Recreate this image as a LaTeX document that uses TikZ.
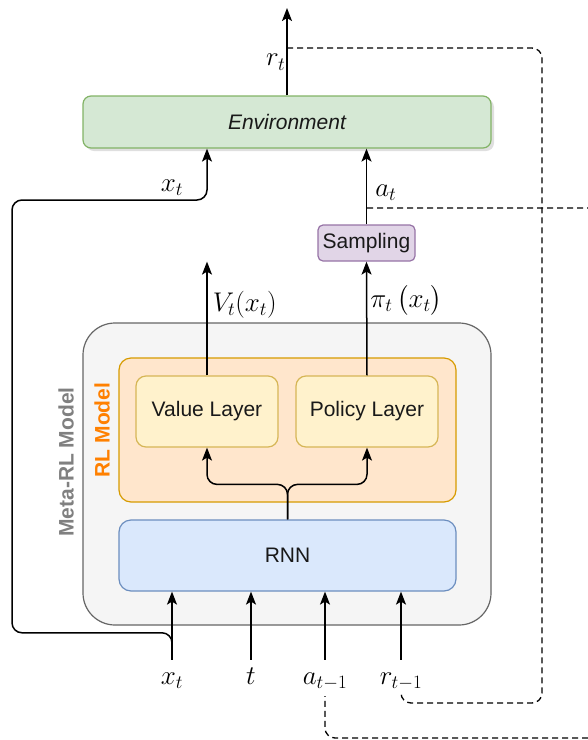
\RequirePackage{fix-cm}
\documentclass[tikz,border=0pt]{standalone}
\usepackage{amsmath}
\usepackage{fontspec}
\setmainfont{Liberation Sans}
\usetikzlibrary{arrows.meta,shadows}

\definecolor{envf}{HTML}{D5E8D4}
\definecolor{envd}{HTML}{82B366}
\definecolor{sampf}{HTML}{E1D5E7}
\definecolor{sampd}{HTML}{9673A6}
\definecolor{metaf}{HTML}{F5F5F5}
\definecolor{metad}{HTML}{666666}
\definecolor{rlf}{HTML}{FFE6CC}
\definecolor{rld}{HTML}{D79B00}
\definecolor{layf}{HTML}{FFF2CC}
\definecolor{layd}{HTML}{D6B656}
\definecolor{rnnf}{HTML}{DAE8FC}
\definecolor{rnnd}{HTML}{6C8EBF}
\definecolor{metatxt}{HTML}{808080}
\definecolor{rltxt}{HTML}{FF8000}

\begin{document}
\begin{tikzpicture}[
  x=1pt, y=-1pt,
  box/.style={draw, rounded corners=8pt, line width=1.2pt, inner sep=0pt, text=black!90, font=\fontsize{21}{25}\selectfont},
  arw/.style={-{Stealth[length=13pt,width=10pt,inset=3pt]}, line width=1.5pt},
  fb/.style={dash pattern=on 6pt off 4pt, line width=1.3pt, rounded corners=10pt},
  lbl/.style={font=\fontsize{27}{32}\selectfont, anchor=base, inner xsep=0pt, inner ysep=9pt, text height=15pt, text depth=6pt},
  tlbl/.style={font=\fontsize{27}{32}\selectfont, inner sep=4pt},
  side/.style={rotate=90, font=\fontsize{21}{25}\selectfont\bfseries}
  ]

\useasboundingbox (0,0) rectangle (588,740);
\clip (0,0) rectangle (588,740);

% boxes
\node [box, draw=envd, fill=envf, minimum width=408pt, minimum height=52pt,
  drop shadow={shadow xshift=3pt, shadow yshift=-3pt, opacity=0.25},
  font=\fontsize{21}{25}\selectfont\itshape] (env) at (287,122) {Environment};
\node [box, draw=sampd, fill=sampf, rounded corners=5pt, minimum width=97pt, minimum height=36pt] (samp) at (366.5,243) {Sampling};
\node [box, draw=metad, fill=metaf, rounded corners=32pt, minimum width=408pt, minimum height=302pt] (meta) at (287,474) {};
\node [box, draw=rld, fill=rlf, rounded corners=12pt, minimum width=337pt, minimum height=144pt] (rl) at (287.5,430) {};
\node [box, draw=layd, fill=layf, rounded corners=10pt, minimum width=142pt, minimum height=71pt] (value) at (207,411.5) {Value Layer};
\node [box, draw=layd, fill=layf, rounded corners=10pt, minimum width=142pt, minimum height=71pt] (policy) at (367,411.5) {Policy Layer};
\node [box, draw=rnnd, fill=rnnf, rounded corners=12pt, minimum width=337pt, minimum height=71pt] (rnn) at (287.5,555.5) {RNN};

\node [side, text=metatxt] (metalab) at (66,462) {Meta-RL Model};
\node [side, text=rltxt] (rllab) at (102,430) {RL Model};

% inputs
\node [lbl] (xin) at (172,684) {$x_t$};
\node [lbl] (tin) at (251,684) {$t$};
\node [lbl] (ain) at (325,684) {$a_{t-1}$};
\node [lbl] (rin) at (401,684) {$r_{t-1}$};

\foreach \n in {xin,tin,ain,rin}
  \draw [arw] (\n.north) -- (\n.north |- rnn.south);

% outputs
\coordinate (rout) at (287,8);
\draw [arw] (env.north) -- node [pos=0.38, left, tlbl, inner sep=1pt] (rlab) {$r_t$} (rout);
\draw [arw] (samp.north) -- node [pos=0.42, right, tlbl, inner sep=8pt] (alab) {$a_t$} (samp.north |- env.south);
\draw [arw] (value.north) -- node [pos=0.62, right, tlbl, inner sep=5pt] (vlab) {$V_t(x_t)$} (value.north |- samp.south);
\draw [arw] (policy.north) -- node [pos=0.66, right, tlbl, inner sep=3pt] (plab) {$\pi_t\,\bigl(x_t\bigr)$} (samp.south);

\draw [arw, rounded corners=10pt] (rnn.north) -- ++(0,-35) -| (value.south);
\draw [arw, rounded corners=10pt] (rnn.north) -- ++(0,-35) -| (policy.south);

% observation back to the environment
\coordinate (xl) at (12,200);
\draw [arw, rounded corners=10pt] (xin.north) -- ++(0,-27) -| (xl) -| ([xshift=-80pt]env.south);
\node [tlbl] (xlab) at (172,188) {$x_t$};

% feedback of reward and action
\coordinate (rfb) at (287,48);
\coordinate (rc) at (542,703);
\draw [fb] (rfb) -| (rc) -| ([yshift=-9pt]rin.base);

\coordinate (afb) at (367,208);
\coordinate (ac) at (612,738);
\draw [fb] (afb) -| (ac) -| ([yshift=-12pt]ain.base);

\end{tikzpicture}
\end{document}
